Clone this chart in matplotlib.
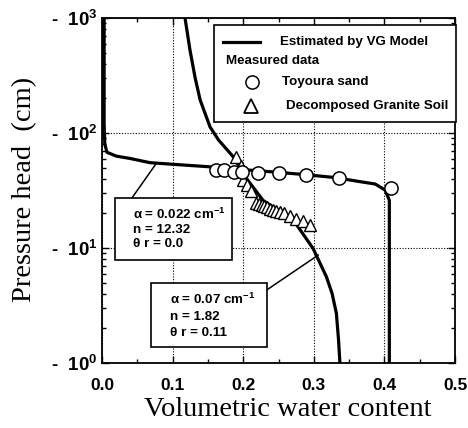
import matplotlib
matplotlib.use("Agg")
import matplotlib.pyplot as plt
from matplotlib.lines import Line2D
from matplotlib.patches import Rectangle
from matplotlib.ticker import FixedLocator, LogLocator, NullFormatter

# ---------------- data ----------------
# VG model curve, Toyoura sand (theta, head cm)
toyo_curve_theta = [0.003, 0.003, 0.003, 0.004, 0.007, 0.020, 0.040, 0.068, 0.101, 0.151,
                    0.200, 0.250, 0.290, 0.330, 0.366, 0.387, 0.401, 0.407, 0.407, 0.407]
toyo_curve_head = [1000, 400, 120, 80, 68, 63, 60, 55.2, 53.4, 50.9,
                   48.0, 45.5, 43.3, 41.0, 37.7, 36.0, 31.9, 26.0, 10.0, 1.0]

# VG model curve, decomposed granite soil
gran_curve_theta = [0.1176, 0.1246, 0.132, 0.139, 0.153, 0.165, 0.186, 0.205, 0.228,
                    0.250, 0.271, 0.299, 0.318, 0.326, 0.332, 0.335, 0.337]
gran_curve_head = [1000, 527, 300, 194, 113, 87, 62, 40, 26,
                   21, 17.5, 9.9, 5.6, 4.0, 2.7, 1.6, 1.0]

# Measured data, Toyoura sand
toyo_theta = [0.162, 0.173, 0.187, 0.199, 0.221, 0.250, 0.289, 0.336, 0.409]
toyo_head = [47.7, 47.5, 46.1, 46.0, 45.2, 45.0, 43.1, 40.9, 33.0]

# Measured data, decomposed granite soil
gran_theta = [0.190, 0.197, 0.200, 0.205, 0.211, 0.218, 0.222, 0.226, 0.230, 0.234,
              0.238, 0.242, 0.247, 0.252, 0.258, 0.266, 0.275, 0.285, 0.295]
gran_head = [62, 52, 39, 35, 31, 24.5, 24, 23.5, 23, 22.5,
             22, 21.5, 21, 20.5, 20, 19, 18, 17, 15.8]

x_ticks = [0.0, 0.1, 0.2, 0.3, 0.4, 0.5]
x_tick_labels = ["0.0", "0.1", "0.2", "0.3", "0.4", "0.5"]
y_ticks = [1, 10, 100, 1000]
y_tick_labels = ["-  10$^{0}$", "-  10$^{1}$", "-  10$^{2}$", "-  10$^{3}$"]

legend_labels = ["Estimated by VG Model", "Measured data", "Toyoura sand",
                 "Decomposed Granite Soil"]
box1_lines = ["α = 0.022 cm$^{-1}$", "n = 12.32", "θ r = 0.0"]
box2_lines = ["α = 0.07 cm$^{-1}$", "n = 1.82", "θ r = 0.11"]

# ---------------- figure ----------------
W, H = 468, 428
plt.rcParams["mathtext.default"] = "regular"
plt.rcParams["font.family"] = ["Liberation Sans", "DejaVu Sans"]
fig = plt.figure(figsize=(W / 100, H / 100), dpi=100)
fig.patch.set_facecolor("white")

def F(x, y):
    return (x / W, 1 - y / H)

L, R, T, B = 102, 455, 18, 363
ax = fig.add_axes([L / W, 1 - B / H, (R - L) / W, (B - T) / H])
ax.set_yscale("log")
ax.set_xlim(0, 0.5)
ax.set_ylim(1, 1000)

ax.grid(True, which="major", color="black", linestyle=(0, (1, 1.5)), linewidth=0.8)
ax.set_axisbelow(True)

ax.plot(toyo_curve_theta, toyo_curve_head, color="black", lw=2.3, zorder=3,
        solid_joinstyle="round")
ax.plot(gran_curve_theta, gran_curve_head, color="black", lw=2.3, zorder=3,
        solid_joinstyle="round")
ax.plot(toyo_theta, toyo_head, linestyle="none", marker="o", ms=9.5,
        mfc="white", mec="black", mew=1.1, zorder=5)
ax.plot(gran_theta, gran_head, linestyle="none", marker="^", ms=9,
        mfc="white", mec="black", mew=1.0, zorder=4)

# ticks
ax.xaxis.set_major_locator(FixedLocator(x_ticks))
ax.set_xticklabels(x_tick_labels)
ax.xaxis.set_minor_locator(FixedLocator([0.05, 0.15, 0.25, 0.35, 0.45]))
ax.yaxis.set_major_locator(FixedLocator(y_ticks))
ax.set_yticklabels(y_tick_labels)
ax.yaxis.set_minor_locator(LogLocator(base=10, subs=range(2, 10)))
ax.yaxis.set_minor_formatter(NullFormatter())
ax.tick_params(which="both", direction="in", top=True, right=True, width=1.0)
ax.tick_params(which="major", length=5)
ax.tick_params(which="minor", length=3)
ax.tick_params(axis="x", which="major", pad=11, labelsize=12.5)
ax.tick_params(axis="y", which="major", pad=3, labelsize=13.5)
for lab in ax.get_xticklabels() + ax.get_yticklabels():
    lab.set_fontweight("bold")
for s in ax.spines.values():
    s.set_linewidth(1.3)

ax.set_xlabel("Volumetric water content", family="Liberation Serif", fontsize=20.5)
ax.set_ylabel("Pressure head  (cm)", family="Liberation Serif", fontsize=20.5)
ax.xaxis.set_label_coords(0.5255, -0.098)
ax.yaxis.set_label_coords(-0.185, 0.504)

# ---------------- legend (manual) ----------------
fig.add_artist(Rectangle(F(214, 121.7), (456 - 214) / W, (121.7 - 25) / H,
                         transform=fig.transFigure, facecolor="white",
                         edgecolor="black", lw=1.2, zorder=10))
fs_leg = 9.6
tk = dict(fontsize=fs_leg, va="center", ha="left", zorder=11, fontweight="bold")
fig.add_artist(Line2D([223 / W, 260 / W], [F(0, 41.7)[1]] * 2, color="black", lw=2.3,
                      transform=fig.transFigure, zorder=11))
fig.text(*F(280, 41.7), legend_labels[0], **tk)
fig.text(*F(226.5, 61), legend_labels[1], **tk)
fig.add_artist(Line2D([251.7 / W], [F(0, 81.7)[1]], marker="o", ms=9.5, mfc="white",
                      mec="black", mew=1.1, linestyle="none",
                      transform=fig.transFigure, zorder=11))
fig.text(*F(282.5, 81.7), legend_labels[2], **tk)
fig.add_artist(Line2D([250.7 / W], [F(0, 105.5)[1]], marker="^", ms=9.5, mfc="white",
                      mec="black", mew=1.3, linestyle="none",
                      transform=fig.transFigure, zorder=11))
fig.text(*F(286.5, 106), legend_labels[3], **tk)

# ---------------- parameter boxes ----------------
def pbox(x0, y0, x1, y1, tx, ty_list, lines):
    fig.add_artist(Rectangle(F(x0, y1), (x1 - x0) / W, (y1 - y0) / H,
                             transform=fig.transFigure, facecolor="white",
                             edgecolor="black", lw=1.2, zorder=10))
    for ty, s in zip(ty_list, lines):
        fig.text(*F(tx, ty), s, **tk)

pbox(115, 198.3, 231.7, 260, 133, [214, 230.5, 244], box1_lines)
pbox(150.7, 283.3, 266.7, 346.7, 170, [299, 316.7, 333.5], box2_lines)

# leader lines
ax.annotate("", xy=(0.077, 54.5), xycoords="data", xytext=F(131.7, 198.3),
            textcoords="figure fraction",
            arrowprops=dict(arrowstyle="-", color="black", lw=1.1, shrinkA=0, shrinkB=0))
ax.annotate("", xy=(0.3065, 8.7), xycoords="data", xytext=F(266.7, 290),
            textcoords="figure fraction",
            arrowprops=dict(arrowstyle="-", color="black", lw=1.1, shrinkA=0, shrinkB=0))

fig.savefig("out.png", dpi=100)
